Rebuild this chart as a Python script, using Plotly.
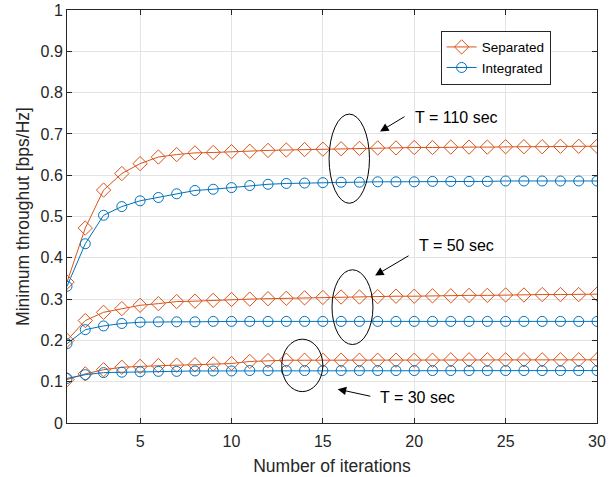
import plotly.graph_objects as go

iterations = list(range(1, 31))

sep_110 = [0.341, 0.472, 0.564, 0.604, 0.628, 0.644, 0.650, 0.654, 0.655, 0.657,
           0.658, 0.660, 0.661, 0.662, 0.663, 0.664, 0.665, 0.666, 0.666, 0.667,
           0.667, 0.668, 0.668, 0.668, 0.669, 0.669, 0.669, 0.670, 0.670, 0.670]
int_110 = [0.331, 0.434, 0.503, 0.524, 0.538, 0.546, 0.555, 0.563, 0.566, 0.570,
           0.575, 0.578, 0.580, 0.581, 0.582, 0.583, 0.583, 0.584, 0.584, 0.584,
           0.585, 0.585, 0.585, 0.585, 0.586, 0.586, 0.586, 0.586, 0.586, 0.586]
sep_50 = [0.200, 0.248, 0.268, 0.277, 0.285, 0.289, 0.294, 0.295, 0.297, 0.299,
          0.300, 0.301, 0.302, 0.303, 0.304, 0.305, 0.305, 0.306, 0.307, 0.307,
          0.308, 0.308, 0.309, 0.309, 0.310, 0.310, 0.311, 0.311, 0.311, 0.312]
int_50 = [0.192, 0.226, 0.235, 0.241, 0.244, 0.245, 0.245, 0.245, 0.246, 0.246,
          0.246, 0.246, 0.246, 0.246, 0.246, 0.246, 0.246, 0.246, 0.246, 0.246,
          0.246, 0.246, 0.246, 0.246, 0.246, 0.246, 0.246, 0.246, 0.246, 0.246]
sep_30 = [0.105, 0.119, 0.129, 0.135, 0.137, 0.139, 0.140, 0.141, 0.143, 0.144,
          0.149, 0.151, 0.152, 0.152, 0.152, 0.152, 0.152, 0.152, 0.152, 0.152,
          0.152, 0.153, 0.153, 0.153, 0.153, 0.153, 0.153, 0.153, 0.153, 0.153]
int_30 = [0.108, 0.117, 0.122, 0.123, 0.124, 0.125, 0.125, 0.126, 0.126, 0.126,
          0.127, 0.127, 0.127, 0.127, 0.127, 0.127, 0.127, 0.127, 0.127, 0.127,
          0.127, 0.127, 0.127, 0.127, 0.127, 0.127, 0.127, 0.127, 0.127, 0.127]

series_names = ["Separated", "Integrated"]
labels = ["T = 110 sec", "T = 50 sec", "T = 30 sec"]

# annotation geometry in data units (ellipse bounds, arrow head, arrow tail, text position)
ellipses = [(15.34, 17.55, 0.532, 0.748), (15.50, 17.74, 0.190, 0.371), (12.75, 15.00, 0.076, 0.203)]
arrow_heads = [(18.13, 0.706), (17.86, 0.357), (15.81, 0.082)]
arrow_tails = [(19.55, 0.744), (19.77, 0.407), (17.68, 0.064)]
text_pos = [(19.93, 0.739), (20.14, 0.429), (18.0, 0.061)]

RED = "#D95319"
BLUE = "#0072BD"
FONT = "Liberation Sans, Arial, Helvetica, sans-serif"
AXC = "#262626"

fig = go.Figure()
groups = [(sep_110, int_110), (sep_50, int_50), (sep_30, int_30)]
for gi, (s, i) in enumerate(groups):
    fig.add_trace(go.Scatter(x=iterations, y=s, mode="lines+markers", name=series_names[0],
                             legendgroup="sep", showlegend=(gi == 0),
                             line=dict(color=RED, width=1),
                             marker=dict(symbol="diamond-open", size=11, color=RED, line=dict(width=1))))
    fig.add_trace(go.Scatter(x=iterations, y=i, mode="lines+markers", name=series_names[1],
                             legendgroup="int", showlegend=(gi == 0),
                             line=dict(color=BLUE, width=1),
                             marker=dict(symbol="circle-open", size=10, color=BLUE, line=dict(width=1))))

for (x0, x1, y0, y1) in ellipses:
    fig.add_shape(type="circle", xref="x", yref="y", x0=x0, x1=x1, y0=y0, y1=y1,
                  line=dict(color="black", width=1))

for (hx, hy), (tx, ty), (px, py), lab in zip(arrow_heads, arrow_tails, text_pos, labels):
    fig.add_annotation(x=hx, y=hy, ax=tx, ay=ty, xref="x", yref="y", axref="x", ayref="y",
                       text="", showarrow=True, arrowhead=2, arrowsize=1.7, arrowwidth=1,
                       arrowcolor="black")
    fig.add_annotation(x=px, y=py, xref="x", yref="y", text=lab, showarrow=False,
                       xanchor="left", yanchor="middle", font=dict(family=FONT, size=16, color="black"))

axis_common = dict(showgrid=True, gridcolor="#e3e3e3", gridwidth=1, showline=True, linecolor=AXC,
                   linewidth=1, mirror="ticks", ticks="inside", ticklen=5, tickcolor=AXC,
                   zeroline=False, automargin=False, tickfont=dict(family=FONT, size=16, color=AXC))

fig.update_xaxes(range=[1, 30], tick0=0, dtick=5, ticklabelstandoff=4,
                 title=dict(text="Number of iterations", font=dict(family=FONT, size=17.5, color=AXC), standoff=10),
                 **axis_common)
fig.update_yaxes(range=[0, 1], tick0=0, dtick=0.1,
                 title=dict(text="Minimum throughut [bps/Hz]", font=dict(family=FONT, size=17.5, color=AXC), standoff=6),
                 **axis_common)

fig.update_layout(
    width=613, height=477,
    margin=dict(l=67, r=16, t=10, b=54),
    paper_bgcolor="white", plot_bgcolor="white",
    font=dict(family=FONT, color=AXC),
    legend=dict(x=0.705, y=0.95, xanchor="left", yanchor="top",
                bgcolor="white", bordercolor=AXC, borderwidth=1,
                font=dict(family=FONT, size=13.5, color="black"),
                tracegroupgap=0, itemwidth=30),
    showlegend=True,
)

fig.write_html("out.html")
